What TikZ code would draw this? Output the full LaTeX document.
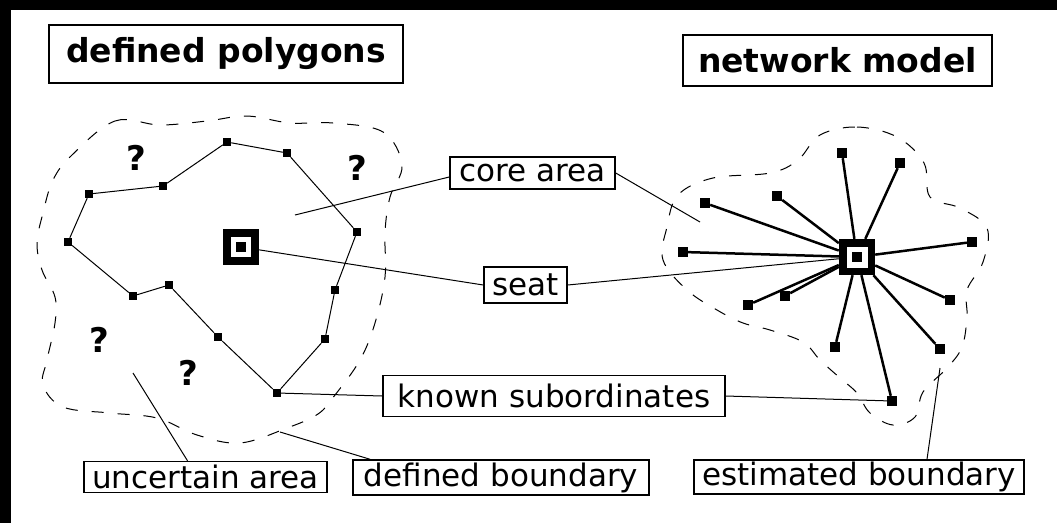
\documentclass[tikz,border=0pt]{standalone}
\usepackage{fontspec}
\setmainfont{DejaVu Sans}
\begin{document}
\begin{tikzpicture}[
    x=1pt, y=-1pt,
    titlebox/.style={rectangle, draw=black, line width=2.5pt, fill=white, inner sep=0pt, align=center, font=\fontsize{33}{38}\selectfont\bfseries},
    tagbox/.style={rectangle, draw=black, line width=1.5pt, fill=white, inner sep=0pt, align=center, font=\fontsize{31}{36}\selectfont},
    vtx/.style={rectangle, fill=black, minimum size=8pt, inner sep=0pt},
    nvtx/.style={rectangle, fill=black, minimum size=10pt, inner sep=0pt},
    ask/.style={inner sep=0pt, font=\fontsize{34}{38}\selectfont\bfseries},
    rim/.style={line width=1pt},
    spoke/.style={line width=2.5pt},
    leader/.style={line width=1pt},
    bound/.style={dash pattern=on 12pt off 14pt, line width=1pt}
]
    % page and frame
    \useasboundingbox (0,0) rectangle (1057,523);
    \fill[white] (0,0) rectangle (1057,523);
    \fill[black] (0,0) rectangle (1057,10);
    \fill[black] (0,0) rectangle (11,523);

    % titles
    \node[titlebox, minimum width=354pt, minimum height=58pt] (ttlpoly) at (226,54) {defined polygons};
    \node[titlebox, minimum width=309pt, minimum height=51pt] (ttlnet) at (837.5,60.5) {network model};

    % defined polygon
    \node[vtx] (p1) at (227,142) {};
    \node[vtx] (p2) at (287,153) {};
    \node[vtx] (p3) at (357,232) {};
    \node[vtx] (p4) at (335,290) {};
    \node[vtx] (p5) at (325,339) {};
    \node[vtx] (p6) at (277,393) {};
    \node[vtx] (p7) at (218,337) {};
    \node[vtx] (p8) at (169,285) {};
    \node[vtx] (p9) at (133,296) {};
    \node[vtx] (p10) at (68,242) {};
    \node[vtx] (p11) at (89,194) {};
    \node[vtx] (p12) at (163,186) {};
    \draw[rim] (p1) -- (p2) -- (p3) -- (p4) -- (p5) -- (p6) -- (p7) -- (p8) -- (p9) -- (p10) -- (p11) -- (p12) -- (p1);

    % seat of the polygon
    \node[rectangle, fill=black, minimum size=36pt, inner sep=0pt] (lseat) at (241,247) {};
    \node[rectangle, fill=white, minimum size=20pt, inner sep=0pt] at (lseat) {};
    \node[rectangle, fill=black, minimum size=10pt, inner sep=0pt] at (lseat) {};

    \node[ask] (q1) at (136,158) {?};
    \node[ask] (q2) at (357,168) {?};
    \node[ask] (q3) at (99,340) {?};
    \node[ask] (q4) at (188,373) {?};

    \draw[bound] plot[smooth cycle, tension=0.6] coordinates {
        (72,155) (115,121) (160,125) (207,121) (247,116) (290,123) (333,123)
        (383,132) (402,165) (390,197) (385,232) (385,277) (375,323) (360,360)
        (335,395) (318,414) (287,428) (240,443) (197,435) (157,418) (110,413)
        (63,407) (43,385) (47,360) (55,323) (55,297) (42,270) (37,243)
        (43,213) (53,180)};

    % network model
    \node[nvtx] (s1) at (842,153) {};
    \node[nvtx] (s2) at (900,163) {};
    \node[nvtx] (s3) at (777,196) {};
    \node[nvtx] (s4) at (705,203) {};
    \node[nvtx] (s5) at (683,252) {};
    \node[nvtx] (s6) at (748,305) {};
    \node[nvtx] (s7) at (785,296) {};
    \node[nvtx] (s8) at (835,347) {};
    \node[nvtx] (s9) at (892,401) {};
    \node[nvtx] (s10) at (940,349) {};
    \node[nvtx] (s11) at (950,300) {};
    \node[nvtx] (s12) at (972,242) {};
    \node[rectangle, fill=black, minimum size=36pt, inner sep=0pt] (hub) at (857,257) {};
    \foreach \i in {1,...,12}
        \draw[spoke] (hub) -- (s\i);
    \node[rectangle, fill=white, minimum size=21pt, inner sep=0pt] at (hub) {};
    \node[rectangle, fill=black, minimum size=10pt, inner sep=0pt] at (hub) {};

    \draw[bound] plot[smooth cycle, tension=0.6] coordinates {
        (820,135) (857,127) (897,137) (924,163) (930,197) (960,208) (987,228)
        (983,262) (967,290) (967,317) (962,347) (947,368) (923,392) (915,417)
        (893,425) (870,413) (857,393) (840,378) (820,360) (803,342) (770,330)
        (743,323) (717,310) (687,290) (663,260) (667,227) (678,195) (713,178)
        (770,173) (798,160)};

    % labels
    \node[tagbox, minimum width=165pt, minimum height=32pt] (core) at (532.5,173) {core area};
    \node[tagbox, minimum width=83pt, minimum height=36pt] (seat) at (525.5,285) {seat};
    \node[tagbox, minimum width=342pt, minimum height=41pt] (known) at (554,396) {known subordinates};
    \node[tagbox, minimum width=243pt, minimum height=31pt] (unc) at (205.5,477) {uncertain area};
    \node[tagbox, minimum width=296pt, minimum height=35pt] (defb) at (501,477.5) {defined boundary};
    \node[tagbox, minimum width=330pt, minimum height=34pt] (est) at (859,477) {estimated boundary};

    % leaders
    \coordinate (coretip) at (295,215);
    \coordinate (coretipr) at (700,222);
    \coordinate (unctip) at (133,373);
    \coordinate (deftip) at (280,432);
    \coordinate (esttip) at (940,368);
    \draw[leader] (coretip) -- ([yshift=-4pt]core.west);
    \draw[leader] (core.east) -- (coretipr);
    \draw[leader] (lseat) -- (seat.west);
    \draw[leader] (seat.east) -- (hub);
    \draw[leader] (p6) -- (known.west);
    \draw[leader] (known.east) -- (s9);
    \draw[leader] (unctip) -- ([xshift=-18pt]unc.north);
    \draw[leader] (deftip) -- ([xshift=-131pt]defb.north);
    \draw[leader] ([xshift=68pt]est.north) -- (esttip);
\end{tikzpicture}
\end{document}
